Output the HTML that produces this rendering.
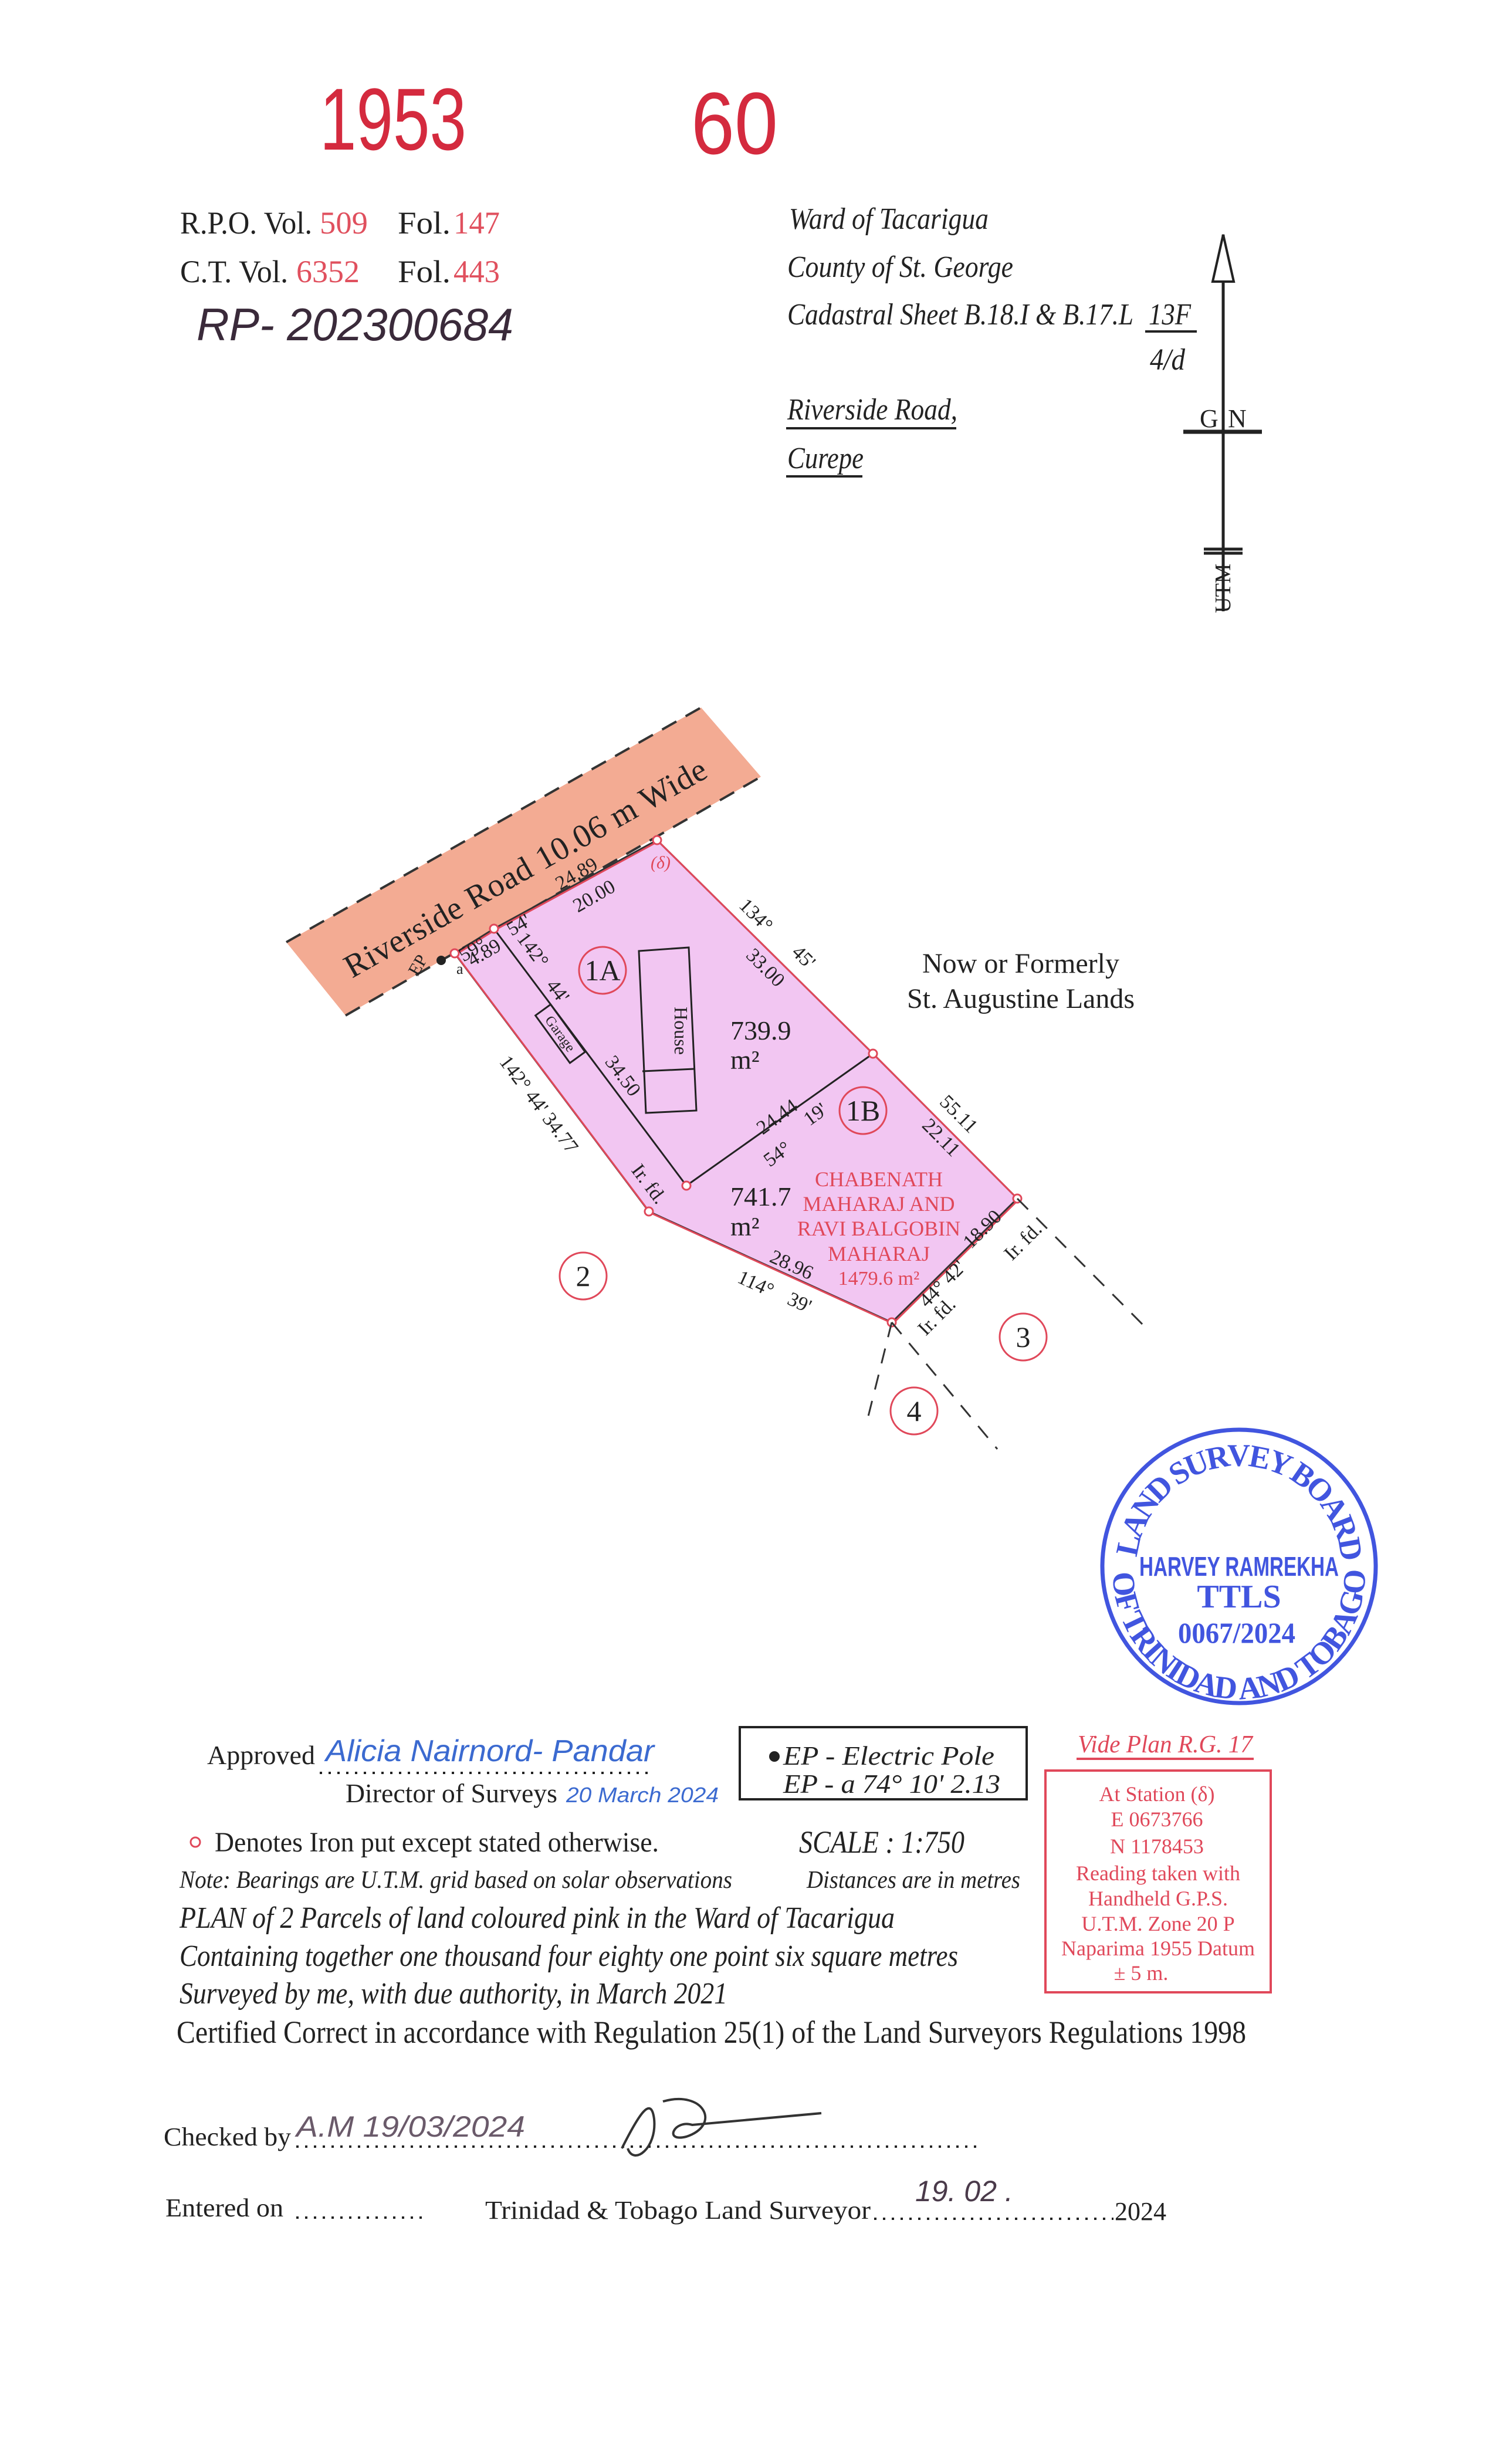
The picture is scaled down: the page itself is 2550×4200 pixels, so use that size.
<!DOCTYPE html>
<html><head><meta charset="utf-8"><style>html,body{margin:0;padding:0;background:#fff}svg{display:block}</style></head>
<body>
<svg xmlns="http://www.w3.org/2000/svg" width="2550" height="4200" viewBox="0 0 2550 4200" font-family="Liberation Serif, serif">
<rect width="2550" height="4200" fill="#fff"/>
<!-- header handwritten numbers -->
<text x="545" y="255" font-family="Liberation Sans Narrow, Liberation Sans, sans-serif" font-size="150" fill="#d42a3e" textLength="250" lengthAdjust="spacingAndGlyphs">1953</text>
<text x="1178" y="262" font-family="Liberation Sans Narrow, Liberation Sans, sans-serif" font-size="150" fill="#d42a3e" textLength="148" lengthAdjust="spacingAndGlyphs">60</text>

<g font-size="54" fill="#222">
<text x="307" y="398" textLength="225" lengthAdjust="spacingAndGlyphs">R.P.O. Vol.</text>
<text x="545" y="398" fill="#e0505e" textLength="82" lengthAdjust="spacingAndGlyphs">509</text>
<text x="678" y="398" textLength="90" lengthAdjust="spacingAndGlyphs">Fol.</text>
<text x="773" y="398" fill="#e0505e" textLength="79" lengthAdjust="spacingAndGlyphs">147</text>
<text x="307" y="481" textLength="184" lengthAdjust="spacingAndGlyphs">C.T. Vol.</text>
<text x="505" y="481" fill="#e0505e" textLength="108" lengthAdjust="spacingAndGlyphs">6352</text>
<text x="678" y="481" textLength="90" lengthAdjust="spacingAndGlyphs">Fol.</text>
<text x="773" y="481" fill="#e0505e" textLength="79" lengthAdjust="spacingAndGlyphs">443</text>
</g>
<text x="335" y="580" font-family="Liberation Sans, sans-serif" font-style="italic" font-size="78" fill="#3a2a3a" textLength="540" lengthAdjust="spacingAndGlyphs">RP- 202300684</text>

<g font-size="52" font-style="italic" fill="#222">
<text x="1345" y="390" textLength="340" lengthAdjust="spacingAndGlyphs">Ward of Tacarigua</text>
<text x="1342" y="472" textLength="385" lengthAdjust="spacingAndGlyphs">County of St. George</text>
<text x="1342" y="553" textLength="590" lengthAdjust="spacingAndGlyphs">Cadastral Sheet  B.18.I &amp; B.17.L</text>
<text x="1958" y="553" textLength="72" lengthAdjust="spacingAndGlyphs">13F</text>
<text x="1960" y="630" textLength="60" lengthAdjust="spacingAndGlyphs">4/d</text>
<text x="1342" y="715" textLength="290" lengthAdjust="spacingAndGlyphs">Riverside Road,</text>
<text x="1342" y="798" textLength="130" lengthAdjust="spacingAndGlyphs">Curepe</text>
</g>
<g stroke="#222" stroke-width="4">
<line x1="1952" y1="565" x2="2040" y2="565"/>
<line x1="1340" y1="730" x2="1630" y2="730"/>
<line x1="1340" y1="812" x2="1470" y2="812"/>
</g>
<!-- north arrow -->
<g stroke="#222" stroke-width="5" fill="none">
<line x1="2085" y1="400" x2="2085" y2="1042"/>
<path d="M2085 400 L2067 480 L2103 480 Z" fill="#fff" stroke-width="4"/>
<line x1="2017" y1="736" x2="2151" y2="736" stroke-width="7"/>
<line x1="2052" y1="936" x2="2118" y2="936"/>
<line x1="2052" y1="943" x2="2118" y2="943"/>
</g>
<text x="2045" y="728" font-size="44" fill="#222">G</text>
<text x="2093" y="728" font-size="44" fill="#222">N</text>
<text transform="translate(2097,1045) rotate(-90)" font-size="38" fill="#222">UTM</text>

<!-- road -->
<polygon points="488,1606 1195,1206 1297,1324 589,1731" fill="#f3ab93"/>
<g stroke="#333" stroke-width="4" stroke-dasharray="28,18">
<line x1="488" y1="1606" x2="1195" y2="1206"/>
<line x1="589" y1="1731" x2="1297" y2="1324"/>
</g>
<text transform="translate(600,1668) rotate(-29.5)" font-size="56" fill="#222" textLength="700" lengthAdjust="spacing">Riverside  Road  10.06 m  Wide</text>

<!-- parcel -->
<polygon points="775,1625 842,1583 1120,1432 1488,1796 1734,2043 1520,2254 1106,2065" fill="#f2c6f2" stroke="#333" stroke-width="3"/>
<polygon points="775,1625 842,1583 1120,1432 1488,1796 1734,2043 1520,2254 1106,2065" fill="none" stroke="#e0485a" stroke-width="3" transform="translate(2,2)"/>
<g stroke="#222" stroke-width="3" fill="none">
<polyline points="842,1583 1170,2021 1488,1796"/>
<polygon points="1089,1621 1174,1615 1187,1893 1101,1897"/>
<line x1="1095" y1="1826" x2="1183" y2="1822"/>
<rect x="-16" y="-50" width="32" height="100" transform="translate(955,1762) rotate(-36)"/>
</g>
<text transform="translate(955,1762) rotate(54)" font-size="24" text-anchor="middle" dy="8" fill="#222">Garage</text>
<text transform="translate(1150,1757) rotate(90)" font-size="32" text-anchor="middle" fill="#222">House</text>
<g fill="#fff" stroke="#e0485a" stroke-width="3">
<circle cx="775" cy="1625" r="7"/><circle cx="842" cy="1583" r="7"/><circle cx="1120" cy="1432" r="7"/>
<circle cx="1488" cy="1796" r="7"/><circle cx="1734" cy="2043" r="7"/><circle cx="1520" cy="2254" r="7"/>
<circle cx="1106" cy="2065" r="7"/><circle cx="1170" cy="2021" r="7"/>
</g>
<circle cx="752" cy="1637" r="8" fill="#222"/>
<text transform="translate(712,1665) rotate(-60)" font-size="30" fill="#222">EP</text>
<text x="778" y="1660" font-size="26" fill="#222">a</text>
<!-- dashed extensions -->
<g stroke="#333" stroke-width="3" stroke-dasharray="26,20">
<line x1="1734" y1="2043" x2="1950" y2="2260"/>
<line x1="1520" y1="2254" x2="1700" y2="2470"/>
<line x1="1520" y1="2254" x2="1476" y2="2430"/>
</g>
<!-- circles -->
<g fill="none" stroke="#e0485a" stroke-width="3">
<circle cx="1027" cy="1654" r="40"/><circle cx="1471" cy="1893" r="40"/>
<circle cx="994" cy="2175" r="40"/><circle cx="1744" cy="2279" r="40"/><circle cx="1558" cy="2405" r="40"/>
</g>
<g font-size="50" text-anchor="middle" fill="#222">
<text x="1027" y="1671">1A</text><text x="1471" y="1910">1B</text>
<text x="994" y="2192">2</text><text x="1744" y="2296">3</text><text x="1558" y="2422">4</text>
</g>
<!-- labels -->
<g font-size="34" fill="#222">
<text transform="translate(790,1640) rotate(-30)">59°</text>
<text transform="translate(872,1596) rotate(-30)">54'</text>
<text transform="translate(955,1518) rotate(-30)">24.89</text>
<text transform="translate(985,1556) rotate(-30)">20.00</text>
<text transform="translate(805,1648) rotate(-30)">4.89</text>
<text transform="translate(1258,1545) rotate(45)">134°</text>
<text transform="translate(1348,1625) rotate(45)">45'</text>
<text transform="translate(1270,1630) rotate(45)">33.00</text>
<text transform="translate(880,1600) rotate(53)">142°</text>
<text transform="translate(930,1680) rotate(53)">44'</text>
<text transform="translate(1030,1810) rotate(53)">34.50</text>
<text transform="translate(850,1810) rotate(53)">142° 44' 34.77</text>
<text transform="translate(1075,1995) rotate(53)">Ir. fd.</text>
<text transform="translate(1300,1935) rotate(-36)">24.44</text>
<text transform="translate(1312,1990) rotate(-36)">54°</text>
<text transform="translate(1380,1920) rotate(-36)">19'</text>
<text transform="translate(1600,1880) rotate(45)">55.11</text>
<text transform="translate(1570,1920) rotate(45)">22.11</text>
<text transform="translate(1655,2130) rotate(-45)">18.90</text>
<text transform="translate(1580,2230) rotate(-45)">44° 42'</text>
<text transform="translate(1725,2150) rotate(-45)">Ir. fd.</text>
<text transform="translate(1578,2278) rotate(-45)">Ir. fd.</text>
<text transform="translate(1310,2150) rotate(24.5)">28.96</text>
<text transform="translate(1255,2185) rotate(24.5)">114°</text>
<text transform="translate(1340,2222) rotate(24.5)">39'</text>
</g>
<g font-size="46" fill="#222">
<text x="1245" y="1772">739.9</text><text x="1245" y="1822">m²</text>
<text x="1245" y="2055">741.7</text><text x="1245" y="2106">m²</text>
</g>
<text x="1126" y="1480" font-size="30" font-style="italic" fill="#e0485a" text-anchor="middle">(δ)</text>
<g font-size="36" fill="#e0485a" text-anchor="middle">
<text x="1498" y="2022">CHABENATH</text>
<text x="1498" y="2064">MAHARAJ AND</text>
<text x="1498" y="2106">RAVI BALGOBIN</text>
<text x="1498" y="2149">MAHARAJ</text>
<text x="1498" y="2190" font-size="34">1479.6 m²</text>
</g>
<g font-size="48" fill="#222" text-anchor="middle">
<text x="1740" y="1658">Now or Formerly</text>
<text x="1740" y="1718">St. Augustine Lands</text>
</g>

<!-- stamp -->
<circle cx="2112" cy="2670" r="233" fill="none" stroke="#4155df" stroke-width="7"/>
<defs>
<path id="arcTop" d="M1938,2655 A175,175 0 0 1 2286,2655"/>
<path id="arcBot" d="M1897,2681 A215,215 0 1 0 2327,2681"/>
</defs>
<g font-size="54" font-weight="bold" fill="#4155df">
<text><textPath href="#arcTop" textLength="520" lengthAdjust="spacing">LAND SURVEY BOARD</textPath></text>
<text><textPath href="#arcBot" textLength="680" lengthAdjust="spacing">OF TRINIDAD AND TOBAGO</textPath></text>
</g>
<g font-family="Liberation Sans, sans-serif" font-weight="bold" fill="#4155df" text-anchor="middle">
<text x="2112" y="2686" font-size="46" textLength="340" lengthAdjust="spacingAndGlyphs">HARVEY RAMREKHA</text>
<text x="2112" y="2740" font-family="Liberation Serif, serif" font-size="56">TTLS</text>
<text x="2108" y="2800" font-family="Liberation Serif, serif" font-size="50" textLength="200" lengthAdjust="spacingAndGlyphs">0067/2024</text>
</g>

<!-- bottom block -->
<g transform="translate(0,-38)">
<g font-size="46" fill="#222">
<text x="353" y="3045" textLength="184" lengthAdjust="spacingAndGlyphs">Approved</text>
<text x="589" y="3110" textLength="361" lengthAdjust="spacingAndGlyphs">Director of Surveys</text>
</g>
<text x="555" y="3040" font-family="Liberation Sans, sans-serif" font-style="italic" font-size="52" fill="#3b6ad0" textLength="560" lengthAdjust="spacingAndGlyphs">Alicia Nairnord- Pandar</text>
<text x="965" y="3110" font-family="Liberation Sans, sans-serif" font-style="italic" font-size="36" fill="#3b6ad0" textLength="260" lengthAdjust="spacingAndGlyphs">20 March 2024</text>
<line x1="545" y1="3060" x2="1112" y2="3060" stroke="#222" stroke-width="4" stroke-dasharray="4,11"/>

<rect x="1261" y="2982" width="489" height="123" fill="none" stroke="#222" stroke-width="4"/>
<circle cx="1320" cy="3032" r="9" fill="#222"/>
<g font-size="46" font-style="italic" fill="#222">
<text x="1335" y="3046" textLength="360" lengthAdjust="spacingAndGlyphs">EP - Electric Pole</text>
<text x="1335" y="3094" textLength="370" lengthAdjust="spacingAndGlyphs">EP - a    74° 10'    2.13</text>
</g>

<text x="1837" y="3025" font-size="42" font-style="italic" fill="#e0485a" textLength="298" lengthAdjust="spacingAndGlyphs">Vide Plan R.G. 17</text>
<line x1="1835" y1="3036" x2="2137" y2="3036" stroke="#e0485a" stroke-width="4"/>
<rect x="1782" y="3056" width="384" height="378" fill="none" stroke="#e0485a" stroke-width="4"/>
<g font-size="36" fill="#e0485a" text-anchor="middle">
<text x="1972" y="3108">At Station (δ)</text>
<text x="1972" y="3151">E 0673766</text>
<text x="1972" y="3197">N 1178453</text>
<text x="1974" y="3243">Reading taken with</text>
<text x="1974" y="3286">Handheld G.P.S.</text>
<text x="1974" y="3329">U.T.M. Zone 20 P</text>
<text x="1974" y="3371">Naparima 1955 Datum</text>
<text x="1945" y="3413">± 5 m.</text>
</g>

<circle cx="333" cy="3178" r="8" fill="none" stroke="#e0485a" stroke-width="3"/>
<g fill="#222">
<text x="366" y="3194" font-size="48" textLength="757" lengthAdjust="spacingAndGlyphs">Denotes Iron put except stated otherwise.</text>
<text x="1362" y="3196" font-size="54" font-style="italic" textLength="282" lengthAdjust="spacingAndGlyphs">SCALE : 1:750</text>
<text x="306" y="3256" font-size="42" font-style="italic" textLength="942" lengthAdjust="spacingAndGlyphs">Note: Bearings are U.T.M.  grid based on solar observations</text>
<text x="1375" y="3256" font-size="42" font-style="italic" textLength="364" lengthAdjust="spacingAndGlyphs">Distances are in metres</text>
<text x="306" y="3324" font-size="52" font-style="italic" textLength="1219" lengthAdjust="spacingAndGlyphs">PLAN of  2 Parcels of land coloured pink in the Ward of Tacarigua</text>
<text x="306" y="3389" font-size="52" font-style="italic" textLength="1327" lengthAdjust="spacingAndGlyphs">Containing together one thousand four eighty one point six square metres</text>
<text x="306" y="3453" font-size="52" font-style="italic" textLength="934" lengthAdjust="spacingAndGlyphs">Surveyed by me, with due authority, in March 2021</text>
<text x="301" y="3520" font-size="54" textLength="1823" lengthAdjust="spacingAndGlyphs">Certified Correct in accordance with Regulation 25(1) of the Land Surveyors Regulations 1998</text>
<text x="279" y="3695" font-size="44" textLength="217" lengthAdjust="spacingAndGlyphs">Checked by</text>
<text x="282" y="3816" font-size="44" textLength="201" lengthAdjust="spacingAndGlyphs">Entered on</text>
<text x="827" y="3820" font-size="44" textLength="657" lengthAdjust="spacingAndGlyphs">Trinidad &amp; Tobago  Land Surveyor</text>
<text x="1900" y="3822" font-size="44" textLength="88" lengthAdjust="spacingAndGlyphs">2024</text>
</g>
<g stroke="#222" stroke-width="4" stroke-dasharray="4,11">
<line x1="505" y1="3697" x2="1668" y2="3697"/>
<line x1="505" y1="3818" x2="720" y2="3818"/>
<line x1="1490" y1="3820" x2="1898" y2="3820"/>
</g>
<text x="505" y="3680" font-family="Liberation Sans, sans-serif" font-style="italic" font-size="50" fill="#6a5a6a" textLength="390" lengthAdjust="spacingAndGlyphs">A.M 19/03/2024</text>
<path d="M1060 3700 C1090 3640 1110 3610 1115 3650 C1120 3700 1080 3730 1070 3700 M1130 3620 C1200 3600 1230 3660 1170 3680 C1130 3690 1150 3650 1180 3660 L1400 3640" fill="none" stroke="#333" stroke-width="4"/>
<text x="1560" y="3790" font-family="Liberation Sans, sans-serif" font-style="italic" font-size="50" fill="#4a3a4a">19. 02 .</text>
</g>
</svg>
</body></html>
